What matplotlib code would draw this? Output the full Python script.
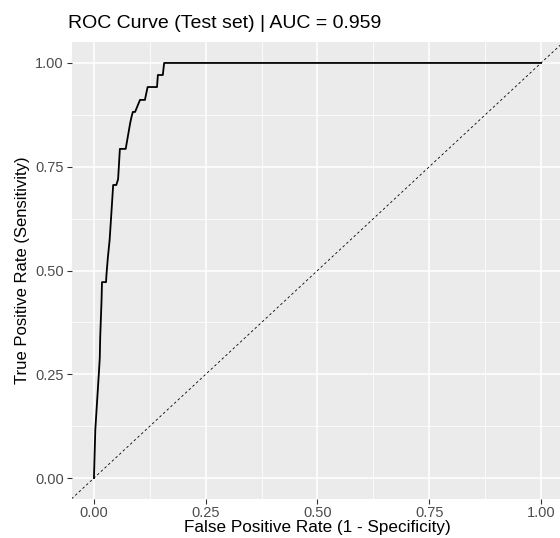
import matplotlib.pyplot as plt
import numpy as np

plt.rcParams['font.family'] = ['Liberation Sans', 'DejaVu Sans']

# ROC curve points
fpr = [0.000, 0.003, 0.011, 0.013, 0.014, 0.017, 0.018, 0.027, 0.028, 0.031,
       0.035, 0.038, 0.043, 0.050, 0.054, 0.058, 0.071, 0.081, 0.084, 0.087,
       0.092, 0.103, 0.114, 0.120, 0.141, 0.143, 0.154, 0.157, 1.000]
tpr = [0.000, 0.116, 0.253, 0.289, 0.340, 0.429, 0.472, 0.472, 0.490, 0.530,
       0.573, 0.622, 0.706, 0.706, 0.720, 0.793, 0.793, 0.855, 0.870, 0.882,
       0.882, 0.911, 0.911, 0.942, 0.942, 0.971, 0.971, 1.000, 1.000]
auc = 0.959

ticks = [0.00, 0.25, 0.50, 0.75, 1.00]
tick_labels = ['0.00', '0.25', '0.50', '0.75', '1.00']

W, H = 560, 538
fig = plt.figure(figsize=(W / 100, H / 100), dpi=100)
# panel in pixels (ggplot-like, 5% expansion)
left, right, top, bottom = 71.6, 563.4, 42.2, 498.8
ax = fig.add_axes([left / W, 1 - bottom / H, (right - left) / W, (bottom - top) / H])
ax.set_facecolor('#EBEBEB')
for s in ax.spines.values():
    s.set_visible(False)

ax.set_xlim(-0.05, 1.05)
ax.set_ylim(-0.05, 1.05)
ax.set_xticks(ticks)
ax.set_xticklabels(tick_labels)
ax.set_yticks(ticks)
ax.set_yticklabels(tick_labels)
minor = [0.125, 0.375, 0.625, 0.875]
ax.set_xticks(minor, minor=True)
ax.set_yticks(minor, minor=True)
ax.grid(True, which='major', color='white', linewidth=1.1)
ax.grid(True, which='minor', color='white', linewidth=0.55)
ax.set_axisbelow(True)
ax.tick_params(which='major', length=3.5, width=0.8, color='#333333',
               labelsize=10.5, labelcolor='#4D4D4D', pad=2)
ax.tick_params(which='minor', length=0)

ax.axline((0, 0), (1, 1), color='black', linestyle=(0, (3, 3)), linewidth=0.6)
ax.plot(fpr, tpr, color='black', linewidth=1.3)

ax.set_xlabel('False Positive Rate (1 - Specificity)', fontsize=12.3, labelpad=0)
ax.set_ylabel('True Positive Rate (Sensitivity)', fontsize=12, labelpad=4)
fig.text(68 / W, 1 - 24 / H, f'ROC Curve (Test set) | AUC = {auc:.3f}',
         fontsize=14, ha='left', va='center')

fig.savefig('out.png', dpi=100)
